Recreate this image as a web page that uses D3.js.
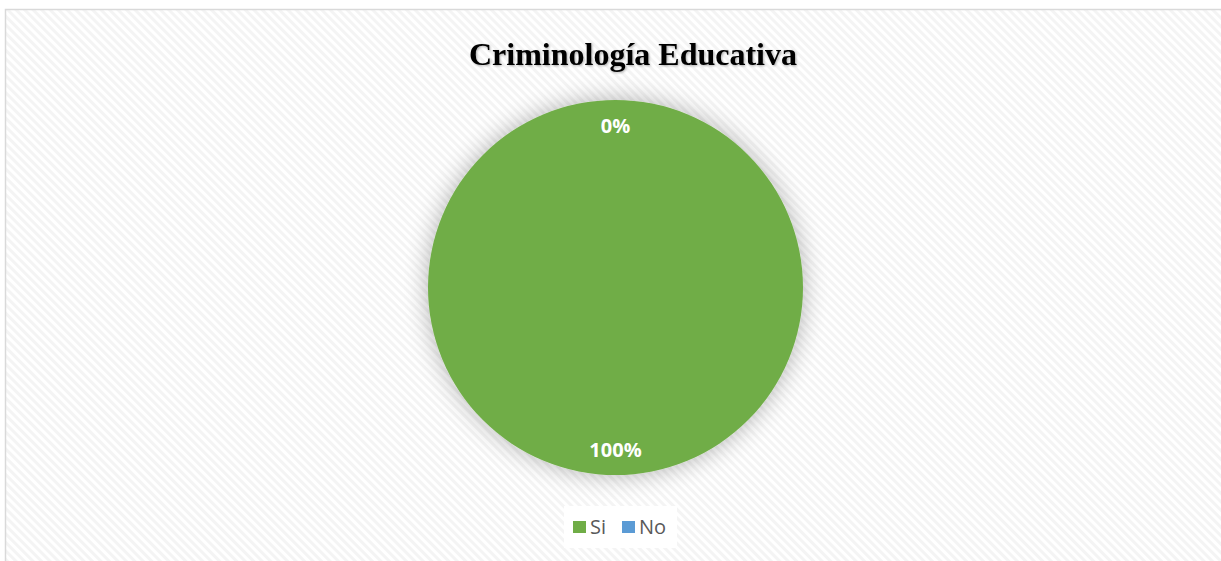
<!DOCTYPE html>
<html><head><meta charset="utf-8">
<script src="https://cdn.jsdelivr.net/npm/d3@7"></script>
<style>html,body{margin:0;padding:0;background:#fff;overflow:hidden}</style>
</head><body>
<script>
const categories = ["Si", "No"];
const values = [100, 0];
const labels = ["100%", "0%"];
const colors = ["#70ad47", "#5b9bd5"];
const title = "Criminología Educativa";

const W = 1221, H = 561;
const svg = d3.select("body").append("svg").attr("width", W).attr("height", H);
const defs = svg.append("defs");
const pat = defs.append("pattern").attr("id","diag").attr("patternUnits","userSpaceOnUse")
  .attr("width",6).attr("height",6).attr("patternTransform","rotate(45)");
pat.append("rect").attr("width",6).attr("height",6).attr("fill","#ffffff");
pat.append("rect").attr("width",6).attr("height",3).attr("fill","#f4f4f4");
const f = defs.append("filter").attr("id","glow").attr("x","-30%").attr("y","-30%").attr("width","160%").attr("height","160%");
f.append("feGaussianBlur").attr("in","SourceAlpha").attr("stdDeviation",12).attr("result","b");
f.append("feComponentTransfer").attr("in","b").attr("result","c").append("feFuncA").attr("type","linear").attr("slope",0.3);
const m = f.append("feMerge"); m.append("feMergeNode").attr("in","c"); m.append("feMergeNode").attr("in","SourceGraphic");
const tf = defs.append("filter").attr("id","tshadow");
tf.append("feDropShadow").attr("dx",1).attr("dy",1).attr("stdDeviation",1).attr("flood-color","#000").attr("flood-opacity",0.3);

svg.append("rect").attr("x",5.5).attr("y",9.5).attr("width",W+20).attr("height",H+20)
  .attr("fill","url(#diag)").attr("stroke","#d9d9d9").attr("stroke-width",1.5);

svg.append("text").attr("x",633).attr("y",65).attr("text-anchor","middle")
  .attr("font-family","'Liberation Serif','Times New Roman',serif").attr("font-weight","bold")
  .attr("font-size",32).attr("fill","#000").attr("filter","url(#tshadow)").text(title);

const cx = 615.5, cy = 287.5, R = 187.5;
const pie = d3.pie().sort(null).value(d => d.v);
const data = pie(categories.map((c,i)=>({c, v: values[i], l: labels[i], col: colors[i]})));
const arc = d3.arc().innerRadius(0).outerRadius(R);
const g = svg.append("g").attr("transform",`translate(${cx},${cy})`);
g.append("g").attr("filter","url(#glow)").selectAll("path").data(data).join("path")
  .attr("d",arc).attr("fill",d=>d.data.col);
const lr = 162;
g.selectAll("text.lbl").data(data).join("text").attr("class","lbl")
  .attr("x",d=>{const a=(d.startAngle+d.endAngle)/2; return lr*Math.sin(a);})
  .attr("y",d=>{const a=(d.startAngle+d.endAngle)/2; return -lr*Math.cos(a);})
  .attr("dy","0.35em").attr("text-anchor","middle")
  .attr("font-family","'Open Sans',sans-serif").attr("font-weight","bold")
  .attr("font-size",20).attr("fill","#fff").text(d=>d.data.l);

// legend
const lg = svg.append("g");
lg.append("rect").attr("x",564).attr("y",506).attr("width",113).attr("height",42).attr("fill","#fff");
const xs = [573, 622];
categories.forEach((c,i)=>{
  lg.append("rect").attr("x",xs[i]).attr("y",521).attr("width",13).attr("height",12).attr("fill",colors[i]);
  lg.append("text").attr("x",xs[i]+17).attr("y",534).attr("font-family","'Open Sans',sans-serif")
    .attr("font-size",20).attr("fill","#595959").text(c);
});
</script>
</body></html>
